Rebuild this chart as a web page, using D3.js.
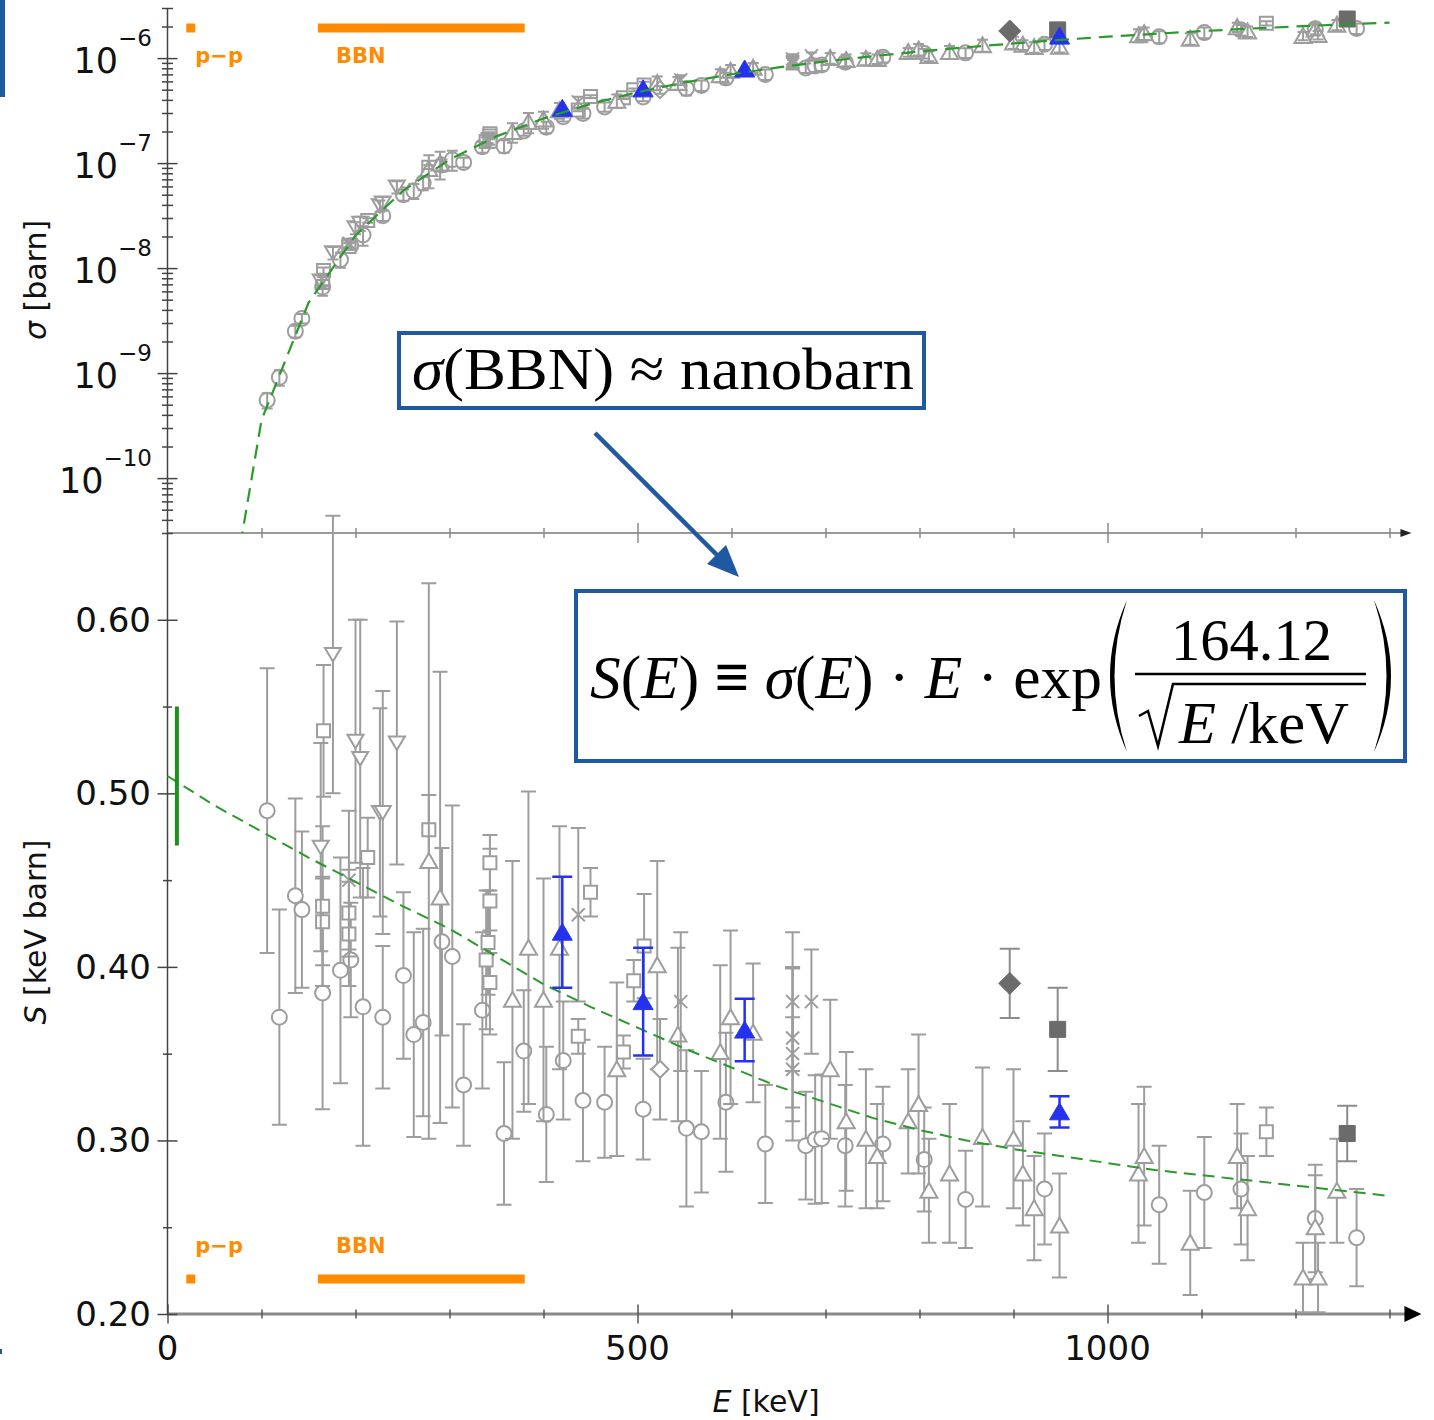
<!DOCTYPE html>
<html>
<head>
<meta charset="utf-8">
<script src="https://cdn.jsdelivr.net/npm/d3@7"></script>
<style>
  body { margin: 0; background: #fff; }
  svg { display: block; }
  text { font-family: "DejaVu Sans", sans-serif; }
  .serif { font-family: "Liberation Serif", "Times New Roman", serif; }
</style>
</head>
<body>
<div id="chart"></div>
<script>
var circles = [
    [106, 0.490, 0.082], [119, 0.371, 0.062], [136, 0.441, 0.056], [143, 0.433, 0.045],
    [165, 0.385, 0.067], [184, 0.398, 0.065], [195, 0.404, 0.033], [208, 0.377, 0.080],
    [229, 0.371, 0.041], [251, 0.395, 0.048], [262, 0.361, 0.059], [272, 0.368, 0.054],
    [292, 0.4145, 0.054], [303, 0.406, 0.087], [315, 0.332, 0.035], [335, 0.375, 0.045],
    [358, 0.304, 0.041], [379, 0.3515, 0.035], [403, 0.315, 0.039], [421, 0.346, 0.034],
    [442, 0.323, 0.035], [465, 0.322, 0.032], [506, 0.318, 0.029], [552, 0.307, 0.045],
    [568, 0.305, 0.035], [594, 0.322, 0.040], [636, 0.298, 0.034], [679, 0.297, 0.031],
    [689, 0.3005, 0.037], [696, 0.301, 0.037], [721, 0.297, 0.035], [761, 0.298, 0.033],
    [805, 0.289, 0.030], [849, 0.266, 0.028], [933, 0.272, 0.032], [1055, 0.263, 0.034],
    [1103, 0.270, 0.032], [1142, 0.272, 0.032], [1221, 0.255, 0.031], [1265, 0.244, 0.028]
];
var squares = [
    [166, 0.536, 0.038], [165, 0.435, 0.046], [165, 0.426, 0.025], [193, 0.431, 0.025],
    [193, 0.419, 0.030], [213, 0.463, 0.023], [278, 0.479, 0.020], [343, 0.460, 0.016],
    [343, 0.438, 0.030], [341, 0.414, 0.030], [339, 0.404, 0.040], [343, 0.391, 0.030],
    [437, 0.360, 0.010], [450, 0.443, 0.014], [485, 0.351, 0.0095], [496, 0.392, 0.012],
    [507, 0.412, 0.030], [1169, 0.305, 0.014]
];
var triangles = [
    [278, 0.461, 0.160], [290, 0.440, 0.130], [367, 0.381, 0.080], [384, 0.411, 0.090],
    [400, 0.381, 0.070], [417, 0.411, 0.070], [478, 0.341, 0.050], [521, 0.401, 0.060],
    [543, 0.361, 0.050], [588, 0.351, 0.050], [599, 0.371, 0.050], [623, 0.362, 0.040],
    [705, 0.341, 0.040], [722, 0.311, 0.040], [743, 0.301, 0.040], [755, 0.291, 0.030],
    [788, 0.311, 0.030], [799, 0.321, 0.040], [810, 0.271, 0.030], [832, 0.281, 0.040],
    [867, 0.302, 0.040], [900, 0.301, 0.040], [910, 0.281, 0.030], [922, 0.261, 0.030],
    [949, 0.251, 0.030], [1033, 0.281, 0.040], [1039, 0.291, 0.040], [1088, 0.241, 0.030],
    [1138, 0.291, 0.030], [1149, 0.261, 0.030], [1208, 0.221, 0.020], [1221, 0.250, 0.030],
    [1224, 0.221, 0.020], [1244, 0.271, 0.030]
];
var invTriangles = [
    [163, 0.469, 0.060], [176, 0.580, 0.080], [200, 0.530, 0.070], [205, 0.520, 0.080],
    [226, 0.489, 0.060], [229, 0.489, 0.070], [244, 0.529, 0.070]
];
var diamonds = [[524, 0.341, 0.029]];
var crosses = [
    [193, 0.450, 0.040], [437, 0.430, 0.050], [546, 0.380, 0.040], [665, 0.380, 0.040],
    [665, 0.359, 0.040], [665, 0.350, 0.050], [665, 0.341, 0.030], [685, 0.380, 0.030]
];
var blueTriangles = [[420, 0.420, 0.032], [506, 0.380, 0.031], [614, 0.3636, 0.018], [949, 0.3165, 0.009]];
var greyDiamonds = [[896, 0.3905, 0.020]];
var greySquares = [[947, 0.364, 0.024], [1255, 0.304, 0.016]];

// fitted S(E), dashed green
var fitE = [0, 50, 100, 150, 200, 250, 300, 350, 400, 450, 500, 550, 600, 650,
            700, 750, 800, 850, 900, 950, 1000, 1050, 1100, 1150, 1200, 1250, 1300];
var fitS = [0.510, 0.493, 0.478, 0.463, 0.449, 0.435, 0.422, 0.406, 0.390, 0.377, 0.365, 0.353, 0.342, 0.331,
            0.322, 0.313, 0.306, 0.300, 0.295, 0.291, 0.287, 0.283, 0.280, 0.277, 0.274, 0.271, 0.268];

var s0Bar = [10, 0.47, 0.55];      // E, low, high
var ppRange = [20, 29.5];
var bbnRange = [160, 380];

var xMajor = [0, 500, 1000];
var xMinor = [100, 200, 300, 400, 600, 700, 800, 900, 1100, 1200, 1300];
var sMajor = [0.20, 0.30, 0.40, 0.50, 0.60];
var sMinor = [0.25, 0.35, 0.45, 0.55];
var sigmaMajor = [1e-10, 1e-9, 1e-8, 1e-7, 1e-6];
var sigmaExp = ["\u221210", "\u22129", "\u22128", "\u22127", "\u22126"];

// upper panel: same points, sigma from the S(E) definition in the box
function sigma(E, S) { return S / E * Math.exp(-164.12 / Math.sqrt(E)); }

var W = 1434, H = 1420;
var grey = "#9d9d9d", dark = "#6b6b6b", blue = "#2432f0", green = "#2b9a2b",
    orange = "#ff8c00", boxBlue = "#1f58a3";

var svg = d3.select("#chart").append("svg").attr("width", W).attr("height", H);

var x = d3.scaleLinear().domain([0, 1000]).range([167.5, 1107.5]);
var yS = d3.scaleLinear().domain([0.2, 0.65]).range([1314, 533]);
var yL = d3.scaleLog().domain([3e-11, 3e-6]).range([533, 8]);
var xEnd = 1318;

// left slide edge
svg.append("rect").attr("x", 0).attr("y", 0).attr("width", 5).attr("height", 97).attr("fill", boxBlue);
svg.append("rect").attr("x", 0).attr("y", 1349).attr("width", 2).attr("height", 5).attr("fill", boxBlue);

svg.append("clipPath").attr("id", "topclip")
    .append("rect").attr("x", 0).attr("y", 0).attr("width", W).attr("height", 533);

function shapePath(shape) {
    switch (shape) {
        case "circle": return "M7.5,0A7.5,7.5 0 1,1 -7.5,0A7.5,7.5 0 1,1 7.5,0Z";
        case "square": return "M-6.5,-6.5H6.5V6.5H-6.5Z";
        case "tri": return "M0,-8L8.5,7L-8.5,7Z";
        case "invtri": return "M0,7L8,-6.5L-8,-6.5Z";
        case "diamond": return "M0,-8.5L8.5,0L0,8.5L-8.5,0Z";
        case "cross": return "M-6.5,-6.5L6.5,6.5M6.5,-6.5L-6.5,6.5";
        case "bigtri": return "M0,-9L10,8L-10,8Z";
        case "bigdiamond": return "M0,-11L11,0L0,11L-11,0Z";
        case "bigsquare": return "M-8,-8H8V8H-8Z";
    }
}

var series = [
    { data: circles, shape: "circle", color: grey, fill: "#fff", bar: grey, cap: 15, bw: 2, open: true },
    { data: squares, shape: "square", color: grey, fill: "#fff", bar: grey, cap: 15, bw: 2, open: true },
    { data: triangles, shape: "tri", color: grey, fill: "#fff", bar: grey, cap: 15, bw: 2, open: true },
    { data: invTriangles, shape: "invtri", color: grey, fill: "#fff", bar: grey, cap: 15, bw: 2, open: true },
    { data: diamonds, shape: "diamond", color: grey, fill: "#fff", bar: grey, cap: 15, bw: 2, open: true },
    { data: crosses, shape: "cross", color: grey, fill: "none", bar: grey, cap: 15, bw: 2, open: true },
    { data: greyDiamonds, shape: "bigdiamond", color: dark, fill: dark, bar: "#8c8c8c", cap: 20, bw: 2 },
    { data: greySquares, shape: "bigsquare", color: dark, fill: dark, bar: "#8c8c8c", cap: 20, bw: 2 },
    { data: blueTriangles, shape: "bigtri", color: blue, fill: blue, bar: blue, cap: 20, bw: 2.5 }
];

function drawBars(g, s, yFn, capW) {
    g.append("g")
        .attr("stroke", s.bar).attr("stroke-width", s.bw).attr("fill", "none")
        .selectAll("path").data(s.data).join("path")
        .attr("d", function (d) {
            var xx = x(d[0]), y0 = yFn(d[0], d[1] - d[2]), y1 = yFn(d[0], d[1] + d[2]), c = capW / 2;
            return "M" + xx + "," + y0 + "V" + y1 +
                "M" + (xx - c) + "," + y0 + "H" + (xx + c) +
                "M" + (xx - c) + "," + y1 + "H" + (xx + c);
        });
}

function drawMarks(g, s, yFn) {
    g.append("g")
        .selectAll("path").data(s.data).join("path")
        .attr("transform", function (d) { return "translate(" + x(d[0]) + "," + yFn(d[0], d[1]) + ")"; })
        .attr("d", shapePath(s.shape))
        .attr("fill", s.fill)
        .attr("stroke", s.color)
        .attr("stroke-width", s.open ? 2 : 1);
}

var ySfn = function (E, S) { return yS(S); };
var yLfn = function (E, S) { return yL(sigma(E, S)); };

// ---------------- axes ----------------
var axisColor = "#444";

// upper panel x axis (grey)
var topAxis = svg.append("g");
topAxis.append("line").attr("x1", x(0)).attr("x2", x(xEnd) - 4).attr("y1", 533).attr("y2", 533)
    .attr("stroke", "#9a9a9a").attr("stroke-width", 2);
topAxis.append("path").attr("d", "M" + (x(xEnd) - 6) + ",529L" + (x(xEnd) + 5) + ",533L" + (x(xEnd) - 6) + ",537Z")
    .attr("fill", "#222");
var tMaj = svg.append("g").attr("transform", "translate(0,523)")
    .call(d3.axisBottom(x).tickValues([500, 1000]).tickSize(20).tickFormat(""));
var tMin = svg.append("g").attr("transform", "translate(0,528)")
    .call(d3.axisBottom(x).tickValues(xMinor).tickSize(10).tickFormat(""));
[tMaj, tMin].forEach(function (a) {
    a.select(".domain").remove();
    a.selectAll(".tick line").attr("stroke", "#8a8a8a").attr("stroke-width", 1.5);
});

// lower panel x axis
svg.append("line").attr("x1", x(0)).attr("x2", x(xEnd)).attr("y1", 1314).attr("y2", 1314)
    .attr("stroke", "#8a8a8a").attr("stroke-width", 3);
svg.append("path").attr("d", "M" + (x(xEnd) - 2) + ",1306L" + (x(xEnd) + 15) + ",1314L" + (x(xEnd) - 2) + ",1322Z")
    .attr("fill", "#000");
var bMaj = svg.append("g").attr("transform", "translate(0,1304.5)")
    .call(d3.axisBottom(x).tickValues(xMajor).tickSize(19).tickFormat(""));
var bMin = svg.append("g").attr("transform", "translate(0,1309.5)")
    .call(d3.axisBottom(x).tickValues(xMinor).tickSize(9).tickFormat(""));
[bMaj, bMin].forEach(function (a) {
    a.select(".domain").remove();
    a.selectAll(".tick line").attr("stroke", "#555").attr("stroke-width", 1.5);
});
svg.append("g").selectAll("text").data(xMajor).join("text")
    .attr("x", function (d) { return x(d); }).attr("y", 1360)
    .attr("text-anchor", "middle").attr("font-size", 34).attr("fill", "#111")
    .text(function (d) { return d; });

// y axes lines
svg.append("line").attr("x1", x(0)).attr("x2", x(0)).attr("y1", 8).attr("y2", 1314)
    .attr("stroke", axisColor).attr("stroke-width", 1.5);

// upper y axis (log)
var sigMinor = [];
for (var e = -11; e <= -6; e++) {
    for (var k = 2; k <= 9; k++) {
        var v = k * Math.pow(10, e);
        if (v >= 3e-11 && v <= 3.01e-6) sigMinor.push(v);
    }
}
var lMaj = svg.append("g").attr("transform", "translate(" + (x(0) + 10) + ",0)")
    .call(d3.axisLeft(yL).tickValues(sigmaMajor).tickSize(20).tickFormat(""));
var lMin = svg.append("g").attr("transform", "translate(" + (x(0) + 5.5) + ",0)")
    .call(d3.axisLeft(yL).tickValues(sigMinor).tickSize(11).tickFormat(""));
var sMajAx = svg.append("g").attr("transform", "translate(" + (x(0) + 10) + ",0)")
    .call(d3.axisLeft(yS).tickValues(sMajor).tickSize(20).tickFormat(""));
var sMinAx = svg.append("g").attr("transform", "translate(" + (x(0) + 4.5) + ",0)")
    .call(d3.axisLeft(yS).tickValues(sMinor).tickSize(9).tickFormat(""));
[lMaj, lMin, sMajAx, sMinAx].forEach(function (a) {
    a.select(".domain").remove();
    a.selectAll(".tick line").attr("stroke", axisColor).attr("stroke-width", 1.5);
});

// sigma tick labels 10^n
var sigLab = svg.append("g").selectAll("text").data(sigmaMajor).join("text")
    .attr("x", 152).attr("y", function (d) { return yL(d) + 15; })
    .attr("text-anchor", "end").attr("fill", "#111");
sigLab.append("tspan").attr("font-size", 35).text("10");
sigLab.append("tspan").attr("font-size", 23).attr("dy", -27)
    .text(function (d, i) { return sigmaExp[i]; });

// S tick labels
svg.append("g").selectAll("text").data(sMajor).join("text")
    .attr("x", 151).attr("y", function (d) { return yS(d) + 12; })
    .attr("text-anchor", "end").attr("font-size", 34).attr("fill", "#111")
    .text(function (d) { return d.toFixed(2); });

// axis titles
var t1 = svg.append("text").attr("transform", "translate(46,280) rotate(-90)")
    .attr("text-anchor", "middle").attr("font-size", 30).attr("fill", "#111");
t1.append("tspan").attr("font-style", "italic").text("\u03c3");
t1.append("tspan").text(" [barn]");
var t2 = svg.append("text").attr("transform", "translate(46,932) rotate(-90)")
    .attr("text-anchor", "middle").attr("font-size", 30).attr("fill", "#111");
t2.append("tspan").attr("font-style", "italic").text("S");
t2.append("tspan").text(" [keV barn]");
var t3 = svg.append("text").attr("x", 766).attr("y", 1412)
    .attr("text-anchor", "middle").attr("font-size", 30).attr("fill", "#111");
t3.append("tspan").attr("font-style", "italic").text("E");
t3.append("tspan").text(" [keV]");

// ---------------- energy ranges (orange) ----------------
function ranges(yBar, yText) {
    var g = svg.append("g");
    g.append("rect").attr("x", x(ppRange[0])).attr("width", x(ppRange[1]) - x(ppRange[0]))
        .attr("y", yBar - 4.5).attr("height", 9).attr("fill", orange);
    g.append("rect").attr("x", x(bbnRange[0])).attr("width", x(bbnRange[1]) - x(bbnRange[0]))
        .attr("y", yBar - 4.5).attr("height", 9).attr("fill", orange);
    g.append("text").attr("x", x(ppRange[0]) + 9).attr("y", yText)
        .attr("font-size", 21).attr("font-weight", "bold").attr("fill", orange).text("p\u2212p");
    g.append("text").attr("x", x(bbnRange[0]) + 18).attr("y", yText)
        .attr("font-size", 21).attr("font-weight", "bold").attr("fill", orange).text("BBN");
}
ranges(28, 63);
ranges(1279, 1253);

// ---------------- upper panel ----------------
var topG = svg.append("g").attr("clip-path", "url(#topclip)");
var openSeries = series.filter(function (s) { return s.open; });
var filledSeries = series.filter(function (s) { return !s.open; });
openSeries.forEach(function (s) { drawMarks(topG, s, yLfn); });
openSeries.forEach(function (s) { drawBars(topG, s, yLfn, 11); });
filledSeries.forEach(function (s) { drawMarks(topG, s, yLfn); });
var fitPts = fitE.map(function (E, i) { return [E, fitS[i]]; });
topG.append("path")
    .datum(fitPts.filter(function (d) { return d[0] > 0; }))
    .attr("fill", "none").attr("stroke", green).attr("stroke-width", 2.2)
    .attr("stroke-dasharray", "14,8")
    .attr("d", d3.line()
        .x(function (d) { return x(d[0]); })
        .y(function (d) { return yL(sigma(d[0], d[1])); }));

// ---------------- lower panel ----------------
var botG = svg.append("g");
openSeries.forEach(function (s) { drawBars(botG, s, ySfn, s.cap); drawMarks(botG, s, ySfn); });
botG.append("path")
    .datum(fitPts)
    .attr("fill", "none").attr("stroke", green).attr("stroke-width", 2)
    .attr("stroke-dasharray", "12,7")
    .attr("d", d3.line()
        .x(function (d) { return x(d[0]); })
        .y(function (d) { return yS(d[1]); }));
filledSeries.forEach(function (s) { drawBars(botG, s, ySfn, s.cap); drawMarks(botG, s, ySfn); });
botG.append("line")
    .attr("x1", x(s0Bar[0])).attr("x2", x(s0Bar[0]))
    .attr("y1", yS(s0Bar[1])).attr("y2", yS(s0Bar[2]))
    .attr("stroke", "#1d8f1d").attr("stroke-width", 4);

// ---------------- annotations ----------------
var box1 = svg.append("g");
box1.append("rect").attr("x", 399).attr("y", 333).attr("width", 525).attr("height", 75)
    .attr("fill", "#fff").attr("stroke", boxBlue).attr("stroke-width", 4);
var bt = box1.append("text").attr("class", "serif").attr("x", 412).attr("y", 389)
    .attr("font-size", 60).attr("fill", "#000")
    .attr("textLength", 502).attr("lengthAdjust", "spacingAndGlyphs");
bt.append("tspan").attr("font-style", "italic").text("\u03c3");
bt.append("tspan").text("(BBN) \u2248 nanobarn");

svg.append("line").attr("x1", 595).attr("y1", 433).attr("x2", 720).attr("y2", 558)
    .attr("stroke", boxBlue).attr("stroke-width", 4.5);
svg.append("path").attr("d", "M739,577L707,564L726,545Z").attr("fill", boxBlue);

var box2 = svg.append("g");
box2.append("rect").attr("x", 576).attr("y", 591).attr("width", 829).attr("height", 170)
    .attr("fill", "#fff").attr("stroke", boxBlue).attr("stroke-width", 4);
var ft = box2.append("text").attr("class", "serif").attr("x", 590).attr("y", 698)
    .attr("font-size", 62).attr("fill", "#000")
    .attr("textLength", 512).attr("lengthAdjust", "spacingAndGlyphs");
ft.append("tspan").attr("font-style", "italic").text("S");
ft.append("tspan").text("(");
ft.append("tspan").attr("font-style", "italic").text("E");
ft.append("tspan").text(") ");
ft.append("tspan").attr("font-weight", "bold").text("\u2261");
ft.append("tspan").text(" ");
ft.append("tspan").attr("font-style", "italic").text("\u03c3");
ft.append("tspan").text("(");
ft.append("tspan").attr("font-style", "italic").text("E");
ft.append("tspan").text(") \u00b7 ");
ft.append("tspan").attr("font-style", "italic").text("E");
ft.append("tspan").text(" \u00b7 exp");
box2.append("text").attr("class", "serif").attr("x", 1171).attr("y", 660)
    .attr("font-size", 60).attr("textLength", 161).attr("lengthAdjust", "spacingAndGlyphs")
    .text("164.12");
box2.append("line").attr("x1", 1135).attr("x2", 1366).attr("y1", 674).attr("y2", 674)
    .attr("stroke", "#000").attr("stroke-width", 2.5);
box2.append("path").attr("d", "M1139,716L1148,711L1158,746L1173,684H1366")
    .attr("fill", "none").attr("stroke", "#000").attr("stroke-width", 2.5);
var den = box2.append("text").attr("class", "serif").attr("x", 1179).attr("y", 743)
    .attr("font-size", 60).attr("textLength", 170).attr("lengthAdjust", "spacingAndGlyphs");
den.append("tspan").attr("font-style", "italic").text("E");
den.append("tspan").text(" /keV");
box2.append("path").attr("d", "M1127,600Q1093,676 1127,752Q1102,676 1127,600Z").attr("fill", "#000");
box2.append("path").attr("d", "M1374,600Q1408,676 1374,752Q1399,676 1374,600Z").attr("fill", "#000");
</script>
</body>
</html>
